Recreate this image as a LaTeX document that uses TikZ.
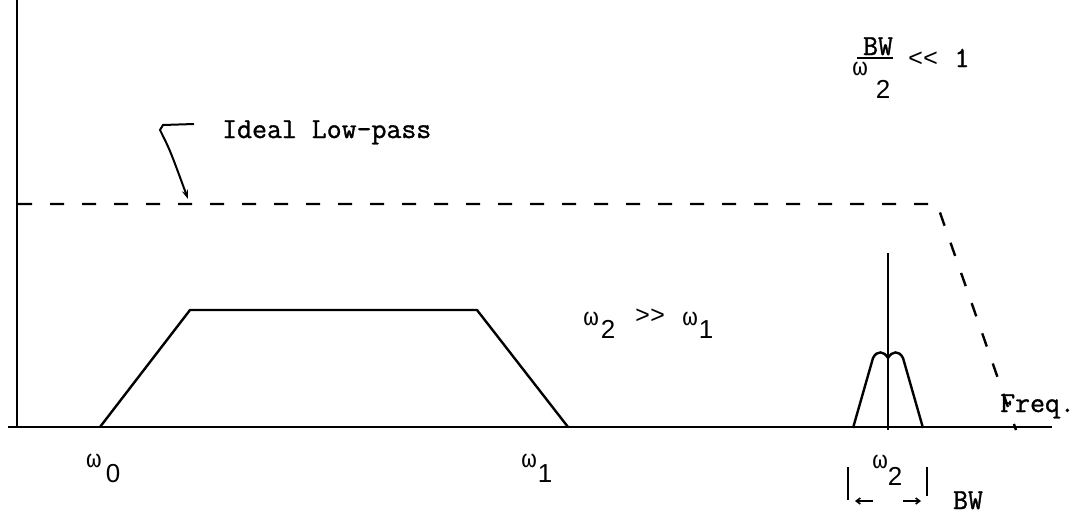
\documentclass[tikz,border=0pt]{standalone}
\usepackage{fontspec}
\setmainfont{Liberation Mono}
\newfontfamily\typ[FakeBold=1.2]{Latin Modern Mono}
\newfontfamily\dig{Liberation Sans}
\usetikzlibrary{arrows.meta}
\tikzset{
  lbl/.style={inner sep=0pt, anchor=base, font=\fontsize{25}{25}\selectfont},
  sub/.style={inner sep=0pt, anchor=base, font=\dig\fontsize{26}{26}\selectfont},
  txt/.style={inner sep=0pt, anchor=base, font=\typ\fontsize{29}{29}\selectfont},
  txtw/.style={txt, anchor=base west},
  ax/.style={line width=2pt},
  curve/.style={line width=2.4pt, line join=round},
  ideal/.style={line width=2.4pt, dash pattern=on 14pt off 18pt},
  thin/.style={line width=1.6pt},
}
\begin{document}
\begin{tikzpicture}[x=1pt,y=-1pt]
\useasboundingbox (0,0) rectangle (1082,515);
% axes
\coordinate (ytop) at (17,0);
\coordinate (origin) at (17,427);
\coordinate (xl) at (8,427);
\coordinate (xr) at (1052,427);
\draw[ax] (ytop) -- (origin);
\draw[ax] (xl) -- (xr);
% ideal low-pass (dashed)
\coordinate (d0) at (18,204);
\coordinate (d1) at (937,204);
\coordinate (d2) at (1016,430);
\draw[ideal] (d0) -- (d1) -- (d2);
% trapezoid
\coordinate (t0) at (100,427);
\coordinate (t1) at (190,310);
\coordinate (t2) at (477,310);
\coordinate (t3) at (568,427);
\draw[curve] (t0) -- (t1) -- (t2) -- (t3);
% spike
\coordinate (s0) at (888,253);
\coordinate (s1) at (888,430);
\draw[curve] (s0) -- (s1);
% bump
\coordinate (b0) at (853,428);
\coordinate (b1) at (873,358);
\coordinate (b2) at (888,358);
\coordinate (b3) at (903,358);
\coordinate (b4) at (923,428);
\draw[curve] (b0) -- (b1) .. controls (877,350) and (884,351) .. (b2)
  .. controls (892,351) and (899,350) .. (b3) -- (b4);
% labels on axis
\node[lbl] (w0) at (94,467) {ω};
\node[sub] (w0s) at (113,482) {0};
\node[lbl] (w1) at (529,467) {ω};
\node[sub] (w1s) at (545,482) {1};
\node[lbl] (w2) at (880,468) {ω};
\node[sub] (w2s) at (895,485) {2};
% bandwidth marker
\coordinate (bl0) at (848,467);
\coordinate (bl1) at (848,500);
\coordinate (br0) at (927,467);
\coordinate (br1) at (927,496);
\draw[thin] (bl0) -- (bl1);
\draw[thin] (br0) -- (br1);
\coordinate (al0) at (873,501);
\coordinate (al1) at (855,501);
\coordinate (ar0) at (903,501);
\coordinate (ar1) at (921,501);
\draw[thin,-{Straight Barb[length=4pt,width=6pt]}] (al0) -- (al1);
\draw[thin,-{Straight Barb[length=4pt,width=6pt]}] (ar0) -- (ar1);
\node[txt] (bw) at (968,509) {BW};
\node[txtw] (freq) at (1000,412) {Freq.};
% omega2 >> omega1
\node[lbl] (m1) at (591,325) {ω};
\node[sub] (m1s) at (608,338) {2};
\node[lbl] (gg) at (650,323) {{>}{>}};
\node[lbl] (m2) at (690,325) {ω};
\node[sub] (m2s) at (706,338) {1};
% fraction
\node[txt] (fbw) at (878,55) {BW};
\coordinate (fl0) at (857,58);
\coordinate (fl1) at (893,58);
\draw[thin] (fl0) -- (fl1);
\node[lbl] (fw) at (860,75) {ω};
\node[sub] (fws) at (883,98) {2};
\node[lbl] (ll) at (923,66) {{<}{<}};
\node[txt] (one) at (962,67) {1};
% Ideal low-pass label and hook arrow
\node[txtw] (ideal) at (222,138) {Ideal Low-pass};
\coordinate (h0) at (194,124);
\coordinate (h1) at (163,125);
\coordinate (h2) at (160,130);
\coordinate (h3) at (188,199);
\draw[line width=2pt,-{Stealth[length=9pt,width=6pt]}] (h0) -- (h1) -- (h2) .. controls (170,150) .. (h3);
\end{tikzpicture}
\end{document}
